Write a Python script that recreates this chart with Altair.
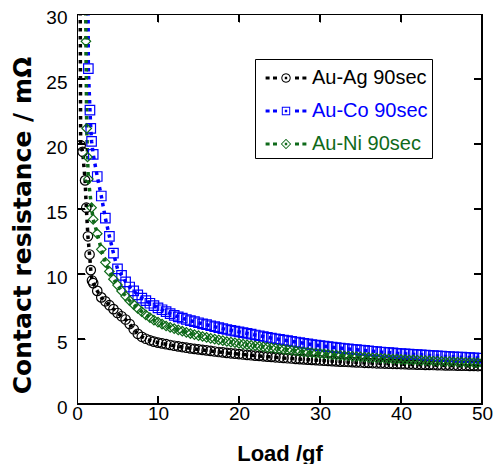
import math
import altair as alt
import pandas as pd

# ---------------- data ----------------
series_names = ["Au-Ag 90sec", "Au-Co 90sec", "Au-Ni 90sec"]
series_colors = ["#000000", "#0000ff", "#0f6a1a"]
series_shapes = ["circle", "square", "diamond"]

x_domain = [0, 50]
y_domain = [0, 30]
x_ticks = [0, 10, 20, 30, 40, 50]
y_ticks = [0, 5, 10, 15, 20, 25, 30]

# first, sparse points of each run (load in gf, resistance in mOhm)
ag_load_head = [0.35, 0.45, 0.7, 1.0, 1.15, 1.35, 1.55, 1.7, 1.85]
ag_res_head = [40.0, 19.9, 19.4, 17.2, 15.1, 12.9, 11.5, 10.3, 9.5]
co_load_head = [1.3, 1.4, 1.6, 1.7, 1.8]
co_res_head = [40.0, 25.8, 22.6, 21.2, 20.2]
ni_load_head = [1.0, 1.1, 1.2, 1.3, 1.4, 1.8]
ni_res_head = [40.0, 27.9, 21.2, 19.0, 17.3, 15.1]

# dense part of each run, shared load steps
load_tail = [2.0, 2.5, 3.0, 3.5, 4.0, 4.5, 5.0, 5.5, 6.0, 6.5, 7.0, 7.5, 8.0, 8.5, 9.0, 9.5,
             10.0, 10.5, 11.0, 11.5, 12.0, 12.5, 13.0, 13.5, 14.0, 14.5,
             15.0, 15.5, 16.0, 16.5, 17.0, 17.5, 18.0, 18.5, 19.0, 19.5,
             20.0, 20.5, 21.0, 21.5, 22.0, 22.5, 23.0, 23.5, 24.0, 24.5,
             25.0, 25.5, 26.0, 26.5, 27.0, 27.5, 28.0, 28.5, 29.0, 29.5,
             30.0, 30.5, 31.0, 31.5, 32.0, 32.5, 33.0, 33.5, 34.0, 34.5,
             35.0, 35.5, 36.0, 36.5, 37.0, 37.5, 38.0, 38.5, 39.0, 39.5,
             40.0, 40.5, 41.0, 41.5, 42.0, 42.5, 43.0, 43.5, 44.0, 44.5,
             45.0, 45.5, 46.0, 46.5, 47.0, 47.5, 48.0, 48.5, 49.0, 49.5,
             50.0]
ag_res_tail = [9.3, 8.7, 8.2, 7.9, 7.6, 7.3, 7.0, 6.75, 6.5, 6.15, 5.75, 5.4, 5.17, 5.02, 4.9, 4.8,
               4.72, 4.66, 4.60, 4.54, 4.48, 4.43, 4.38, 4.33, 4.28, 4.24,
               4.20, 4.16, 4.12, 4.08, 4.04, 4.00, 3.97, 3.93, 3.90, 3.87,
               3.84, 3.81, 3.78, 3.75, 3.72, 3.70, 3.67, 3.64, 3.62, 3.59,
               3.57, 3.54, 3.52, 3.50, 3.47, 3.45, 3.43, 3.41, 3.39, 3.37,
               3.35, 3.33, 3.31, 3.30, 3.28, 3.26, 3.25, 3.23, 3.22, 3.20,
               3.19, 3.17, 3.16, 3.15, 3.13, 3.12, 3.11, 3.10, 3.09, 3.08,
               3.07, 3.06, 3.05, 3.04, 3.03, 3.02, 3.01, 3.01, 3.00, 2.99,
               2.98, 2.97, 2.97, 2.96, 2.95, 2.94, 2.94, 2.93, 2.93, 2.92,
               2.92]
co_res_tail = [19.2, 17.5, 16.0, 14.3, 12.9, 11.6, 10.4, 9.9, 9.4, 9.0, 8.7, 8.4, 8.15, 7.95, 7.75, 7.57,
               7.40, 7.25, 7.10, 6.95, 6.82, 6.70, 6.60, 6.50, 6.41, 6.33,
               6.25, 6.17, 6.10, 6.02, 5.95, 5.87, 5.80, 5.73, 5.67, 5.61,
               5.55, 5.49, 5.43, 5.37, 5.31, 5.25, 5.19, 5.13, 5.07, 5.02,
               4.97, 4.92, 4.87, 4.82, 4.77, 4.72, 4.67, 4.62, 4.57, 4.53,
               4.49, 4.45, 4.41, 4.37, 4.33, 4.30, 4.27, 4.24, 4.21, 4.18,
               4.15, 4.12, 4.09, 4.06, 4.03, 4.00, 3.98, 3.95, 3.93, 3.90,
               3.88, 3.86, 3.84, 3.82, 3.80, 3.78, 3.76, 3.74, 3.72, 3.70,
               3.68, 3.66, 3.65, 3.63, 3.61, 3.60, 3.58, 3.57, 3.55, 3.54,
               3.52]
ni_res_tail = [14.2, 13.1, 11.9, 10.9, 10.2, 9.6, 9.15, 8.7, 8.3, 7.95, 7.65, 7.35, 7.10, 6.85, 6.65, 6.45,
               6.30, 6.15, 6.00, 5.90, 5.80, 5.70, 5.60, 5.51, 5.42, 5.34,
               5.26, 5.19, 5.12, 5.05, 4.99, 4.93, 4.87, 4.81, 4.76, 4.71,
               4.66, 4.61, 4.56, 4.52, 4.48, 4.44, 4.40, 4.36, 4.32, 4.28,
               4.24, 4.20, 4.16, 4.12, 4.08, 4.04, 4.00, 3.97, 3.94, 3.91,
               3.88, 3.85, 3.82, 3.79, 3.76, 3.74, 3.71, 3.69, 3.66, 3.64,
               3.62, 3.60, 3.58, 3.56, 3.54, 3.52, 3.50, 3.48, 3.46, 3.45,
               3.43, 3.42, 3.40, 3.39, 3.37, 3.36, 3.34, 3.33, 3.31, 3.30,
               3.28, 3.27, 3.26, 3.25, 3.23, 3.22, 3.21, 3.20, 3.18, 3.17,
               3.16]

# ---------------- table ----------------
rows = []
runs = [
    (series_names[0], ag_load_head + load_tail, ag_res_head + ag_res_tail),
    (series_names[1], co_load_head + load_tail, co_res_head + co_res_tail),
    (series_names[2], ni_load_head + load_tail, ni_res_head + ni_res_tail),
]
for name, loads, ress in runs:
    for l, r in zip(loads, ress):
        rows.append({"series": name, "load": l, "res": r})
df = pd.DataFrame(rows)

W, H = 405, 390
TICK = 8

# ---------------- frame and inward ticks as line segments (through the scales) ----------------
x0, x1 = x_domain
y0, y1 = y_domain
tx = TICK * (x1 - x0) / W   # tick length expressed in x units
ty = TICK * (y1 - y0) / H   # tick length expressed in y units
frame_rows = []
seg = 0
for i, (fx, fy) in enumerate([(x0, y0), (x1, y0), (x1, y1), (x0, y1), (x0, y0)]):
    frame_rows.append({"seg": seg, "i": i, "fx": fx, "fy": fy})
for t in x_ticks:
    seg += 1
    frame_rows += [{"seg": seg, "i": 0, "fx": t, "fy": y0}, {"seg": seg, "i": 1, "fx": t, "fy": y0 + ty}]
    seg += 1
    frame_rows += [{"seg": seg, "i": 0, "fx": t, "fy": y1}, {"seg": seg, "i": 1, "fx": t, "fy": y1 - ty}]
for t in y_ticks:
    seg += 1
    frame_rows += [{"seg": seg, "i": 0, "fx": x0, "fy": t}, {"seg": seg, "i": 1, "fx": x0 + tx, "fy": t}]
    seg += 1
    frame_rows += [{"seg": seg, "i": 0, "fx": x1, "fy": t}, {"seg": seg, "i": 1, "fx": x1 - tx, "fy": t}]
frame_df = pd.DataFrame(frame_rows)

# ---------------- legend symbols (dotted line + marker) ----------------
SYM_SIZE = 900
K = math.sqrt(SYM_SIZE) / 2.0  # px per path unit


def _pt(x, y):
    return f"{x / K:.4f},{y / K:.4f}"


def _poly(pts):
    return "M" + "L".join(_pt(x, y) for x, y in pts) + "Z"


def _rect(cx, cy, w, h):
    return _poly([(cx - w / 2, cy - h / 2), (cx + w / 2, cy - h / 2),
                  (cx + w / 2, cy + h / 2), (cx - w / 2, cy + h / 2)])


def _circle(r, n=28, cw=True):
    pts = [(r * math.cos(2 * math.pi * i / n), r * math.sin(2 * math.pi * i / n)) for i in range(n)]
    if not cw:
        pts = pts[::-1]
    return _poly(pts)


def _square(h, cw=True):
    pts = [(-h, -h), (h, -h), (h, h), (-h, h)]
    if not cw:
        pts = pts[::-1]
    return _poly(pts)


def _diamond(h, cw=True):
    pts = [(0, -h), (h, 0), (0, h), (-h, 0)]
    if not cw:
        pts = pts[::-1]
    return _poly(pts)


dots = "".join(_rect(cx, 0, 4.0, 2.8) for cx in (-18.4, -11.0, 11.0, 18.4))
center = _rect(0, 0, 2.4, 2.4)
legend_paths = [
    dots + _circle(4.7) + _circle(3.7, cw=False) + center,
    dots + _square(4.2) + _square(3.2, cw=False) + center,
    dots + _diamond(5.2) + _diamond(4.0, cw=False) + center,
]
entry_color_expr = (f"datum.value === '{series_names[1]}' ? '{series_colors[1]}' : "
                    f"datum.value === '{series_names[2]}' ? '{series_colors[2]}' : '{series_colors[0]}'")

legend = alt.Legend(
    title=None, orient="none", legendX=178, legendY=45,
    symbolSize=SYM_SIZE, symbolOffset=12, labelOffset=11,
    symbolStrokeWidth=0, symbolOpacity=1,
    symbolFillColor=alt.ExprRef(entry_color_expr),
    labelColor=alt.ExprRef(entry_color_expr),
    labelFont="Liberation Sans", labelFontSize=20, labelLimit=0,
    padding=4, rowPadding=8, strokeColor="black", fillColor="white",
)

x_scale = alt.Scale(domain=x_domain, nice=False)
y_scale = alt.Scale(domain=y_domain, nice=False)
color_scale = alt.Scale(domain=series_names, range=series_colors)
shape_scale = alt.Scale(domain=series_names, range=series_shapes)
legend_shape_scale = alt.Scale(domain=series_names, range=legend_paths)

X_TITLE = "Load /gf"
Y_TITLE = "Contact resistance / mΩ"

# main axes: labels, titles and the bottom/left frame lines
x_axis_main = alt.Axis(orient="bottom", values=x_ticks, ticks=False, grid=False,
                       domain=True, domainColor="black", domainWidth=1,
                       labelFont="Liberation Sans", labelFontSize=19, labelColor="black",
                       labelPadding=0, labelFlush=False,
                       titleFont="Liberation Sans", titleFontSize=22, titleFontWeight="bold",
                       titleColor="black", titlePadding=20)
y_axis_main = alt.Axis(orient="left", values=y_ticks, ticks=False, grid=False,
                       domain=True, domainColor="black", domainWidth=1,
                       labelFont="Liberation Sans", labelFontSize=19, labelColor="black",
                       labelPadding=10, labelFlush=False, labelOffset=3,
                       titleFont="DejaVu Sans", titleFontSize=25, titleFontWeight="bold",
                       titleColor="black", titlePadding=10, titleY=211)
# top/right frame lines
x_axis_top = alt.Axis(orient="top", values=x_ticks, ticks=False, labels=False, grid=False,
                      domain=True, domainColor="black", domainWidth=1, title=None)
y_axis_right = alt.Axis(orient="right", values=y_ticks, ticks=False, labels=False, grid=False,
                        domain=True, domainColor="black", domainWidth=1, title=None)
# inward tick marks: tick-only axes pulled inside the frame by the tick length
x_ticks_bottom = alt.Axis(orient="bottom", offset=-TICK, values=x_ticks, ticks=True, tickSize=TICK,
                          tickColor="black", tickWidth=1, labels=False, grid=False, domain=False,
                          title=None)
x_ticks_top = alt.Axis(orient="top", offset=-TICK, values=x_ticks, ticks=True, tickSize=TICK,
                       tickColor="black", tickWidth=1, labels=False, grid=False, domain=False,
                       title=None)
y_ticks_left = alt.Axis(orient="left", offset=-TICK, values=y_ticks, ticks=True, tickSize=TICK,
                        tickColor="black", tickWidth=1, labels=False, grid=False, domain=False,
                        title=None)
y_ticks_right = alt.Axis(orient="right", offset=-TICK, values=y_ticks, ticks=True, tickSize=TICK,
                         tickColor="black", tickWidth=1, labels=False, grid=False, domain=False,
                         title=None)

base = alt.Chart(df)
lines = base.mark_line(strokeDash=[3.5, 4.5], strokeWidth=3.5, clip=True).encode(
    x=alt.X("load:Q", scale=x_scale, title=X_TITLE, axis=x_axis_main),
    y=alt.Y("res:Q", scale=y_scale, title=Y_TITLE, axis=y_axis_main),
    color=alt.Color("series:N", scale=color_scale, legend=None),
    detail="series:N",
)
points = base.mark_point(filled=False, size=90, strokeWidth=1.2, opacity=1, clip=True).encode(
    x=alt.X("load:Q", scale=x_scale, title=None, axis=x_axis_top),
    y=alt.Y("res:Q", scale=y_scale, title=None, axis=y_axis_right),
    color=alt.Color("series:N", scale=color_scale, legend=None),
    shape=alt.Shape("series:N", scale=shape_scale, legend=None),
)
# legend carrier: draws nothing, only provides the legend entries
legend_layer = base.transform_filter("false").mark_point(
    filled=True, size=SYM_SIZE, opacity=1, strokeWidth=0).encode(
    x=alt.X("load:Q", scale=x_scale, title=None, axis=x_ticks_bottom),
    y=alt.Y("res:Q", scale=y_scale, title=None, axis=y_ticks_left),
    color=alt.Color("series:N", scale=color_scale, legend=legend),
    shape=alt.Shape("series:N", scale=legend_shape_scale, legend=legend),
)
# plot frame and inward ticks (clipped like the data lines; 2px so 1px stays inside)
frame_layer = alt.Chart(frame_df).mark_line(color="black", strokeWidth=2, clip=True).encode(
    x=alt.X("fx:Q", scale=x_scale, title=None, axis=x_ticks_top),
    y=alt.Y("fy:Q", scale=y_scale, title=None, axis=y_ticks_right),
    detail="seg:N",
    order="i:Q",
)

chart = alt.layer(lines, points, legend_layer, frame_layer).resolve_scale(
    shape="independent"
).resolve_axis(
    x="independent", y="independent"
).properties(
    width=W, height=H,
    padding={"left": 2, "top": 0, "right": 0, "bottom": 0},
    background="white",
).configure_view(stroke="black", strokeWidth=1)

chart.save("out.html", embed_options={"renderer": "svg", "actions": False})
